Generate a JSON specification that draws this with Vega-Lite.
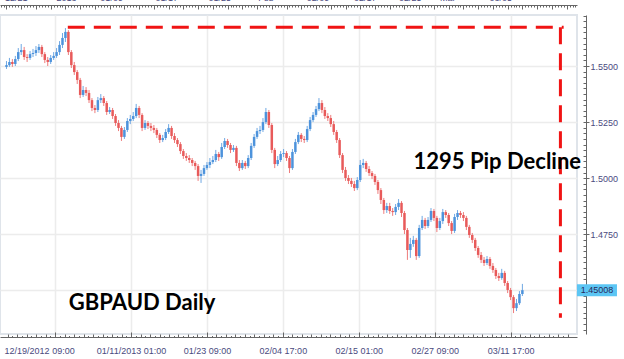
{
"$schema":"https://vega.github.io/schema/vega-lite/v6.json",
"width":577,"height":319,"autosize":"none",
"padding":{"left":0,"top":15,"right":47,"bottom":25},
"background":"white",
"config":{"view":{"stroke":"#dfe4ea","strokeWidth":2},
"axis":{"labelFont":"Liberation Sans","labelFontSize":9,"labelColor":"#4a4a80","domainColor":"#666666","tickColor":"#666666","gridColor":"#ececec","gridWidth":1.5,"title":null,"labelOverlap":false,"labelBound":false,"labelFlush":false}},
"datasets":{
"candles":[
{"i":0,"o":1.5496,"h":1.5522,"l":1.5487,"c":1.5504},
{"i":1,"o":1.5504,"h":1.5536,"l":1.5496,"c":1.5518},
{"i":2,"o":1.5518,"h":1.5531,"l":1.5496,"c":1.5509},
{"i":3,"o":1.5509,"h":1.5545,"l":1.5500,"c":1.5531},
{"i":4,"o":1.5531,"h":1.5580,"l":1.5522,"c":1.5562},
{"i":5,"o":1.5562,"h":1.5598,"l":1.5549,"c":1.5571},
{"i":6,"o":1.5571,"h":1.5585,"l":1.5527,"c":1.5540},
{"i":7,"o":1.5540,"h":1.5553,"l":1.5518,"c":1.5536},
{"i":8,"o":1.5536,"h":1.5567,"l":1.5527,"c":1.5553},
{"i":9,"o":1.5553,"h":1.5576,"l":1.5540,"c":1.5558},
{"i":10,"o":1.5558,"h":1.5589,"l":1.5545,"c":1.5571},
{"i":11,"o":1.5571,"h":1.5598,"l":1.5558,"c":1.5585},
{"i":12,"o":1.5585,"h":1.5594,"l":1.5540,"c":1.5553},
{"i":13,"o":1.5553,"h":1.5562,"l":1.5513,"c":1.5527},
{"i":14,"o":1.5527,"h":1.5540,"l":1.5500,"c":1.5518},
{"i":15,"o":1.5518,"h":1.5549,"l":1.5509,"c":1.5536},
{"i":16,"o":1.5536,"h":1.5562,"l":1.5527,"c":1.5545},
{"i":17,"o":1.5545,"h":1.5580,"l":1.5536,"c":1.5562},
{"i":18,"o":1.5562,"h":1.5611,"l":1.5549,"c":1.5594},
{"i":19,"o":1.5594,"h":1.5647,"l":1.5580,"c":1.5625},
{"i":20,"o":1.5625,"h":1.5669,"l":1.5607,"c":1.5652},
{"i":21,"o":1.5652,"h":1.5660,"l":1.5549,"c":1.5562},
{"i":22,"o":1.5562,"h":1.5571,"l":1.5491,"c":1.5504},
{"i":23,"o":1.5504,"h":1.5518,"l":1.5460,"c":1.5473},
{"i":24,"o":1.5473,"h":1.5482,"l":1.5420,"c":1.5438},
{"i":25,"o":1.5438,"h":1.5447,"l":1.5357,"c":1.5371},
{"i":26,"o":1.5371,"h":1.5411,"l":1.5362,"c":1.5393},
{"i":27,"o":1.5393,"h":1.5406,"l":1.5366,"c":1.5380},
{"i":28,"o":1.5380,"h":1.5393,"l":1.5335,"c":1.5348},
{"i":29,"o":1.5348,"h":1.5357,"l":1.5299,"c":1.5313},
{"i":30,"o":1.5313,"h":1.5326,"l":1.5290,"c":1.5304},
{"i":31,"o":1.5304,"h":1.5362,"l":1.5295,"c":1.5348},
{"i":32,"o":1.5348,"h":1.5375,"l":1.5335,"c":1.5357},
{"i":33,"o":1.5357,"h":1.5366,"l":1.5322,"c":1.5335},
{"i":34,"o":1.5335,"h":1.5344,"l":1.5282,"c":1.5295},
{"i":35,"o":1.5295,"h":1.5317,"l":1.5286,"c":1.5304},
{"i":36,"o":1.5304,"h":1.5313,"l":1.5264,"c":1.5277},
{"i":37,"o":1.5277,"h":1.5286,"l":1.5233,"c":1.5246},
{"i":38,"o":1.5246,"h":1.5259,"l":1.5210,"c":1.5224},
{"i":39,"o":1.5224,"h":1.5233,"l":1.5166,"c":1.5184},
{"i":40,"o":1.5184,"h":1.5228,"l":1.5175,"c":1.5215},
{"i":41,"o":1.5215,"h":1.5268,"l":1.5206,"c":1.5255},
{"i":42,"o":1.5255,"h":1.5282,"l":1.5241,"c":1.5264},
{"i":43,"o":1.5264,"h":1.5295,"l":1.5255,"c":1.5277},
{"i":44,"o":1.5277,"h":1.5331,"l":1.5268,"c":1.5313},
{"i":45,"o":1.5313,"h":1.5322,"l":1.5268,"c":1.5282},
{"i":46,"o":1.5282,"h":1.5290,"l":1.5210,"c":1.5224},
{"i":47,"o":1.5224,"h":1.5259,"l":1.5215,"c":1.5246},
{"i":48,"o":1.5246,"h":1.5255,"l":1.5219,"c":1.5233},
{"i":49,"o":1.5233,"h":1.5246,"l":1.5210,"c":1.5224},
{"i":50,"o":1.5224,"h":1.5237,"l":1.5201,"c":1.5215},
{"i":51,"o":1.5215,"h":1.5224,"l":1.5179,"c":1.5193},
{"i":52,"o":1.5193,"h":1.5201,"l":1.5157,"c":1.5170},
{"i":53,"o":1.5170,"h":1.5193,"l":1.5161,"c":1.5179},
{"i":54,"o":1.5179,"h":1.5219,"l":1.5170,"c":1.5206},
{"i":55,"o":1.5206,"h":1.5241,"l":1.5197,"c":1.5224},
{"i":56,"o":1.5224,"h":1.5233,"l":1.5175,"c":1.5188},
{"i":57,"o":1.5188,"h":1.5201,"l":1.5157,"c":1.5170},
{"i":58,"o":1.5170,"h":1.5179,"l":1.5139,"c":1.5152},
{"i":59,"o":1.5152,"h":1.5161,"l":1.5108,"c":1.5121},
{"i":60,"o":1.5121,"h":1.5130,"l":1.5086,"c":1.5099},
{"i":61,"o":1.5099,"h":1.5112,"l":1.5077,"c":1.5090},
{"i":62,"o":1.5090,"h":1.5103,"l":1.5068,"c":1.5081},
{"i":63,"o":1.5081,"h":1.5090,"l":1.5054,"c":1.5068},
{"i":64,"o":1.5068,"h":1.5077,"l":1.5037,"c":1.5054},
{"i":65,"o":1.5054,"h":1.5063,"l":1.4988,"c":1.5010},
{"i":66,"o":1.5010,"h":1.5037,"l":1.4979,"c":1.5019},
{"i":67,"o":1.5019,"h":1.5059,"l":1.5010,"c":1.5045},
{"i":68,"o":1.5045,"h":1.5072,"l":1.5037,"c":1.5059},
{"i":69,"o":1.5059,"h":1.5090,"l":1.5045,"c":1.5072},
{"i":70,"o":1.5072,"h":1.5099,"l":1.5063,"c":1.5081},
{"i":71,"o":1.5081,"h":1.5126,"l":1.5072,"c":1.5108},
{"i":72,"o":1.5108,"h":1.5117,"l":1.5077,"c":1.5094},
{"i":73,"o":1.5094,"h":1.5157,"l":1.5086,"c":1.5139},
{"i":74,"o":1.5139,"h":1.5179,"l":1.5130,"c":1.5166},
{"i":75,"o":1.5166,"h":1.5175,"l":1.5135,"c":1.5148},
{"i":76,"o":1.5148,"h":1.5157,"l":1.5112,"c":1.5126},
{"i":77,"o":1.5126,"h":1.5148,"l":1.5117,"c":1.5135},
{"i":78,"o":1.5135,"h":1.5144,"l":1.5054,"c":1.5068},
{"i":79,"o":1.5068,"h":1.5081,"l":1.5032,"c":1.5045},
{"i":80,"o":1.5045,"h":1.5081,"l":1.5037,"c":1.5068},
{"i":81,"o":1.5068,"h":1.5077,"l":1.5041,"c":1.5054},
{"i":82,"o":1.5054,"h":1.5103,"l":1.5045,"c":1.5090},
{"i":83,"o":1.5090,"h":1.5157,"l":1.5081,"c":1.5144},
{"i":84,"o":1.5144,"h":1.5197,"l":1.5135,"c":1.5184},
{"i":85,"o":1.5184,"h":1.5224,"l":1.5175,"c":1.5210},
{"i":86,"o":1.5210,"h":1.5233,"l":1.5197,"c":1.5215},
{"i":87,"o":1.5215,"h":1.5268,"l":1.5206,"c":1.5250},
{"i":88,"o":1.5250,"h":1.5313,"l":1.5241,"c":1.5295},
{"i":89,"o":1.5295,"h":1.5304,"l":1.5224,"c":1.5237},
{"i":90,"o":1.5237,"h":1.5246,"l":1.5112,"c":1.5126},
{"i":91,"o":1.5126,"h":1.5135,"l":1.5045,"c":1.5063},
{"i":92,"o":1.5063,"h":1.5099,"l":1.5054,"c":1.5081},
{"i":93,"o":1.5081,"h":1.5121,"l":1.5072,"c":1.5108},
{"i":94,"o":1.5108,"h":1.5130,"l":1.5094,"c":1.5112},
{"i":95,"o":1.5112,"h":1.5121,"l":1.5077,"c":1.5090},
{"i":96,"o":1.5090,"h":1.5099,"l":1.5023,"c":1.5045},
{"i":97,"o":1.5045,"h":1.5130,"l":1.5037,"c":1.5117},
{"i":98,"o":1.5117,"h":1.5175,"l":1.5108,"c":1.5161},
{"i":99,"o":1.5161,"h":1.5206,"l":1.5152,"c":1.5193},
{"i":100,"o":1.5193,"h":1.5201,"l":1.5161,"c":1.5175},
{"i":101,"o":1.5175,"h":1.5188,"l":1.5157,"c":1.5170},
{"i":102,"o":1.5170,"h":1.5233,"l":1.5161,"c":1.5219},
{"i":103,"o":1.5219,"h":1.5273,"l":1.5210,"c":1.5259},
{"i":104,"o":1.5259,"h":1.5295,"l":1.5250,"c":1.5282},
{"i":105,"o":1.5282,"h":1.5322,"l":1.5273,"c":1.5308},
{"i":106,"o":1.5308,"h":1.5357,"l":1.5299,"c":1.5335},
{"i":107,"o":1.5335,"h":1.5348,"l":1.5290,"c":1.5304},
{"i":108,"o":1.5304,"h":1.5317,"l":1.5264,"c":1.5277},
{"i":109,"o":1.5277,"h":1.5290,"l":1.5255,"c":1.5268},
{"i":110,"o":1.5268,"h":1.5282,"l":1.5228,"c":1.5241},
{"i":111,"o":1.5241,"h":1.5255,"l":1.5193,"c":1.5206},
{"i":112,"o":1.5206,"h":1.5215,"l":1.5157,"c":1.5170},
{"i":113,"o":1.5170,"h":1.5179,"l":1.5090,"c":1.5103},
{"i":114,"o":1.5103,"h":1.5112,"l":1.5023,"c":1.5037},
{"i":115,"o":1.5037,"h":1.5050,"l":1.4988,"c":1.5001},
{"i":116,"o":1.5001,"h":1.5014,"l":1.4974,"c":1.4988},
{"i":117,"o":1.4988,"h":1.5001,"l":1.4961,"c":1.4974},
{"i":118,"o":1.4974,"h":1.4988,"l":1.4943,"c":1.4956},
{"i":119,"o":1.4956,"h":1.5005,"l":1.4947,"c":1.4992},
{"i":120,"o":1.4992,"h":1.5081,"l":1.4983,"c":1.5059},
{"i":121,"o":1.5059,"h":1.5086,"l":1.5045,"c":1.5068},
{"i":122,"o":1.5068,"h":1.5077,"l":1.5028,"c":1.5041},
{"i":123,"o":1.5041,"h":1.5054,"l":1.5010,"c":1.5023},
{"i":124,"o":1.5023,"h":1.5032,"l":1.4996,"c":1.5010},
{"i":125,"o":1.5010,"h":1.5019,"l":1.4970,"c":1.4983},
{"i":126,"o":1.4983,"h":1.4992,"l":1.4930,"c":1.4947},
{"i":127,"o":1.4947,"h":1.4956,"l":1.4885,"c":1.4903},
{"i":128,"o":1.4903,"h":1.4912,"l":1.4841,"c":1.4858},
{"i":129,"o":1.4858,"h":1.4890,"l":1.4845,"c":1.4876},
{"i":130,"o":1.4876,"h":1.4890,"l":1.4841,"c":1.4854},
{"i":131,"o":1.4854,"h":1.4867,"l":1.4832,"c":1.4849},
{"i":132,"o":1.4849,"h":1.4885,"l":1.4836,"c":1.4872},
{"i":133,"o":1.4872,"h":1.4907,"l":1.4858,"c":1.4890},
{"i":134,"o":1.4890,"h":1.4898,"l":1.4827,"c":1.4845},
{"i":135,"o":1.4845,"h":1.4854,"l":1.4751,"c":1.4769},
{"i":136,"o":1.4769,"h":1.4778,"l":1.4636,"c":1.4680},
{"i":137,"o":1.4680,"h":1.4734,"l":1.4645,"c":1.4707},
{"i":138,"o":1.4707,"h":1.4743,"l":1.4694,"c":1.4725},
{"i":139,"o":1.4725,"h":1.4734,"l":1.4636,"c":1.4653},
{"i":140,"o":1.4653,"h":1.4792,"l":1.4645,"c":1.4778},
{"i":141,"o":1.4778,"h":1.4832,"l":1.4769,"c":1.4814},
{"i":142,"o":1.4814,"h":1.4823,"l":1.4774,"c":1.4787},
{"i":143,"o":1.4787,"h":1.4827,"l":1.4778,"c":1.4814},
{"i":144,"o":1.4814,"h":1.4867,"l":1.4805,"c":1.4854},
{"i":145,"o":1.4854,"h":1.4863,"l":1.4809,"c":1.4823},
{"i":146,"o":1.4823,"h":1.4832,"l":1.4760,"c":1.4778},
{"i":147,"o":1.4778,"h":1.4823,"l":1.4769,"c":1.4809},
{"i":148,"o":1.4809,"h":1.4863,"l":1.4796,"c":1.4849},
{"i":149,"o":1.4849,"h":1.4858,"l":1.4823,"c":1.4836},
{"i":150,"o":1.4836,"h":1.4845,"l":1.4787,"c":1.4800},
{"i":151,"o":1.4800,"h":1.4809,"l":1.4751,"c":1.4765},
{"i":152,"o":1.4765,"h":1.4841,"l":1.4756,"c":1.4827},
{"i":153,"o":1.4827,"h":1.4858,"l":1.4814,"c":1.4845},
{"i":154,"o":1.4845,"h":1.4854,"l":1.4823,"c":1.4836},
{"i":155,"o":1.4836,"h":1.4849,"l":1.4809,"c":1.4823},
{"i":156,"o":1.4823,"h":1.4832,"l":1.4769,"c":1.4783},
{"i":157,"o":1.4783,"h":1.4792,"l":1.4734,"c":1.4747},
{"i":158,"o":1.4747,"h":1.4756,"l":1.4711,"c":1.4725},
{"i":159,"o":1.4725,"h":1.4734,"l":1.4676,"c":1.4689},
{"i":160,"o":1.4689,"h":1.4698,"l":1.4645,"c":1.4658},
{"i":161,"o":1.4658,"h":1.4671,"l":1.4622,"c":1.4636},
{"i":162,"o":1.4636,"h":1.4649,"l":1.4609,"c":1.4622},
{"i":163,"o":1.4622,"h":1.4653,"l":1.4613,"c":1.4640},
{"i":164,"o":1.4640,"h":1.4649,"l":1.4596,"c":1.4609},
{"i":165,"o":1.4609,"h":1.4622,"l":1.4578,"c":1.4591},
{"i":166,"o":1.4591,"h":1.4600,"l":1.4551,"c":1.4564},
{"i":167,"o":1.4564,"h":1.4578,"l":1.4542,"c":1.4555},
{"i":168,"o":1.4555,"h":1.4596,"l":1.4547,"c":1.4578},
{"i":169,"o":1.4578,"h":1.4587,"l":1.4520,"c":1.4533},
{"i":170,"o":1.4533,"h":1.4542,"l":1.4488,"c":1.4502},
{"i":171,"o":1.4502,"h":1.4511,"l":1.4457,"c":1.4470},
{"i":172,"o":1.4470,"h":1.4479,"l":1.4399,"c":1.4421},
{"i":173,"o":1.4421,"h":1.4462,"l":1.4408,"c":1.4443},
{"i":174,"o":1.4443,"h":1.4497,"l":1.4435,"c":1.4484},
{"i":175,"o":1.4484,"h":1.4529,"l":1.4475,"c":1.4501}
],
"dash":[
{"x1":20.8,"x2":189,"y1":1.5673,"y2":1.5673},
{"x1":187.9,"x2":187.9,"y1":1.5673,"y2":1.4378}
],
"notes":[
{"i":166.5,"p":1.5040,"t":"1295 Pip Decline"},
{"i":46,"p":1.4413,"t":"GBPAUD Daily"}
],
"tag":[{"p":1.45008,"t":"1.45008"}]
},
"resolve":{"axis":{"x":"independent","y":"independent"}},
"layer":[
{"data":{"name":"candles"},"mark":{"type":"rule","strokeWidth":1},
"encoding":{
"x":{"field":"i","type":"quantitative","scale":{"domain":[-0.5,191.83],"nice":false,"zero":false},
"axis":{"orient":"bottom","offset":3,"values":[16.5,42.25,68,93.75,119.5,145.25,171],"ticks":false,"grid":true,"labelPadding":9,
"labelExpr":"['12/19/2012 09:00','01/11/2013 01:00','01/23 09:00','02/04 17:00','02/15 01:00','02/27 09:00','03/11 17:00'][round((datum.value-16.5)/25.75)]",
"labelOffset":{"condition":{"test":"datum.value < 20","value":-16},"value":0}}},
"y":{"field":"l","type":"quantitative","scale":{"domain":[1.43057,1.57273],"nice":false,"zero":false},
"axis":{"orient":"right","offset":9,"values":[1.45,1.475,1.5,1.525,1.55],"format":".4f","labelExpr":"datum.value < 1.46 ? '' : datum.label","tickSize":3,"labelPadding":1,"grid":true,"labelBaseline":"middle"}},
"y2":{"field":"h"},
"color":{"condition":{"test":"datum.c > datum.o","value":"#6fa8e3"},"value":"#ee7c7c"}}},
{"data":{"name":"candles"},"mark":{"type":"bar","size":2.5},
"encoding":{
"x":{"field":"i","type":"quantitative","scale":{"domain":[-0.5,191.83],"nice":false,"zero":false},
"axis":{"orient":"top","offset":10,"tickCount":192,"labels":false,"domain":false,"grid":false,
"tickSize":{"condition":{"test":"datum.value % 5 == 0","value":-4},"value":-2}}},
"y":{"field":"o","type":"quantitative","scale":{"domain":[1.43057,1.57273],"nice":false,"zero":false},
"axis":{"orient":"right","offset":9,"labels":false,"domain":false,"grid":false,"tickSize":-3,
"values":[1.4325,1.435,1.4375,1.44,1.4425,1.445,1.4475,1.45,1.4525,1.455,1.4575,1.46,1.4625,1.465,1.4675,1.47,1.4725,1.475,1.4775,1.48,1.4825,1.485,1.4875,1.49,1.4925,1.495,1.4975,1.5,1.5025,1.505,1.5075,1.51,1.5125,1.515,1.5175,1.52,1.5225,1.525,1.5275,1.53,1.5325,1.535,1.5375,1.54,1.5425,1.545,1.5475,1.55,1.5525,1.555,1.5575,1.56,1.5625,1.565,1.5675,1.57,1.5725]}},
"y2":{"field":"c"},
"color":{"condition":{"test":"datum.c > datum.o","value":"#4d93dc"},"value":"#e85a5a"}}},
{"data":{"name":"dash"},"mark":{"type":"rule","color":"#f01414","strokeWidth":3,"strokeDash":[17,9],"strokeCap":"butt"},
"encoding":{
"x":{"field":"x1","type":"quantitative","scale":{"domain":[-0.5,191.83],"nice":false,"zero":false},
"axis":{"orient":"top","offset":10,"ticks":false,"grid":false,"labelPadding":5,"labelBaseline":"alphabetic",
"values":[3.17,20.17,35.5,54.17,72.17,87.83,105.5,121.5,136.83,149.5,167.5],
"labelExpr":"['12/21','2013','01/09','01/17','01/25','Feb','02/09','02/17','02/25','Mar','03/05'][indexof([3.17,20.17,35.5,54.17,72.17,87.83,105.5,121.5,136.83,149.5,167.5], datum.value)]"}},
"x2":{"field":"x2"},
"y":{"field":"y1","type":"quantitative","scale":{"domain":[1.43057,1.57273],"nice":false,"zero":false},"axis":null},
"y2":{"field":"y2"}}},
{"data":{"name":"notes"},"mark":{"type":"text","font":"Lato","fontWeight":"bold","fontSize":22,"align":"center","baseline":"alphabetic","color":"#000000"},
"encoding":{
"x":{"field":"i","type":"quantitative","scale":{"domain":[-0.5,191.83],"nice":false,"zero":false},
"axis":{"orient":"bottom","offset":3,"labels":false,"domain":false,"grid":false,"tickSize":-5,"values":[16.5,42.25,68,93.75,119.5,145.25,171]}},
"y":{"field":"p","type":"quantitative","scale":{"domain":[1.43057,1.57273],"nice":false,"zero":false},"axis":null},
"text":{"field":"t"}}},
{"data":{"name":"tag"},"mark":{"type":"rect","width":40,"height":12,"color":"#5cc6f4"},
"encoding":{
"x":{"datum":200.3,"type":"quantitative","scale":{"domain":[-0.5,191.83],"nice":false,"zero":false},
"axis":{"orient":"bottom","offset":3,"labels":false,"domain":false,"grid":false,"tickSize":-3,
"values":[0.41,3.63,6.84,10.06,13.28,19.72,22.94,26.16,29.38,32.59,35.81,39.03,45.47,48.69,51.91,55.13,58.34,61.56,64.78,71.22,74.44,77.66,80.88,84.09,87.31,90.53,96.97,100.19,103.41,106.63,109.84,113.06,116.28,122.72,125.94,129.16,132.38,135.59,138.81,142.03,148.47,151.69,154.91,158.13,161.34,164.56,167.78,174.22,177.44,180.66,183.88,187.09,190.31]}},
"y":{"field":"p","type":"quantitative","scale":{"domain":[1.43057,1.57273],"nice":false,"zero":false},"axis":null}}},
{"data":{"name":"tag"},"mark":{"type":"text","font":"Liberation Sans","fontSize":9,"align":"center","baseline":"middle","color":"#2a2a5a"},
"encoding":{
"x":{"datum":200.3,"type":"quantitative","scale":{"domain":[-0.5,191.83],"nice":false,"zero":false},
"axis":{"orient":"bottom","offset":3,"labels":false,"domain":false,"grid":false,"tickSize":-1.5,
"values":[2.02,5.23,8.45,11.67,14.89,18.11,21.33,24.55,27.77,30.98,34.2,37.42,40.64,43.86,47.08,50.3,53.52,56.73,59.95,63.17,66.39,69.61,72.83,76.05,79.27,82.48,85.7,88.92,92.14,95.36,98.58,101.8,105.02,108.23,111.45,114.67,117.89,121.11,124.33,127.55,130.77,133.98,137.2,140.42,143.64,146.86,150.08,153.3,156.52,159.73,162.95,166.17,169.39,172.61,175.83,179.05,182.27,185.48,188.7]}},
"y":{"field":"p","type":"quantitative","scale":{"domain":[1.43057,1.57273],"nice":false,"zero":false},"axis":null},
"text":{"field":"t"}}}
]
}
